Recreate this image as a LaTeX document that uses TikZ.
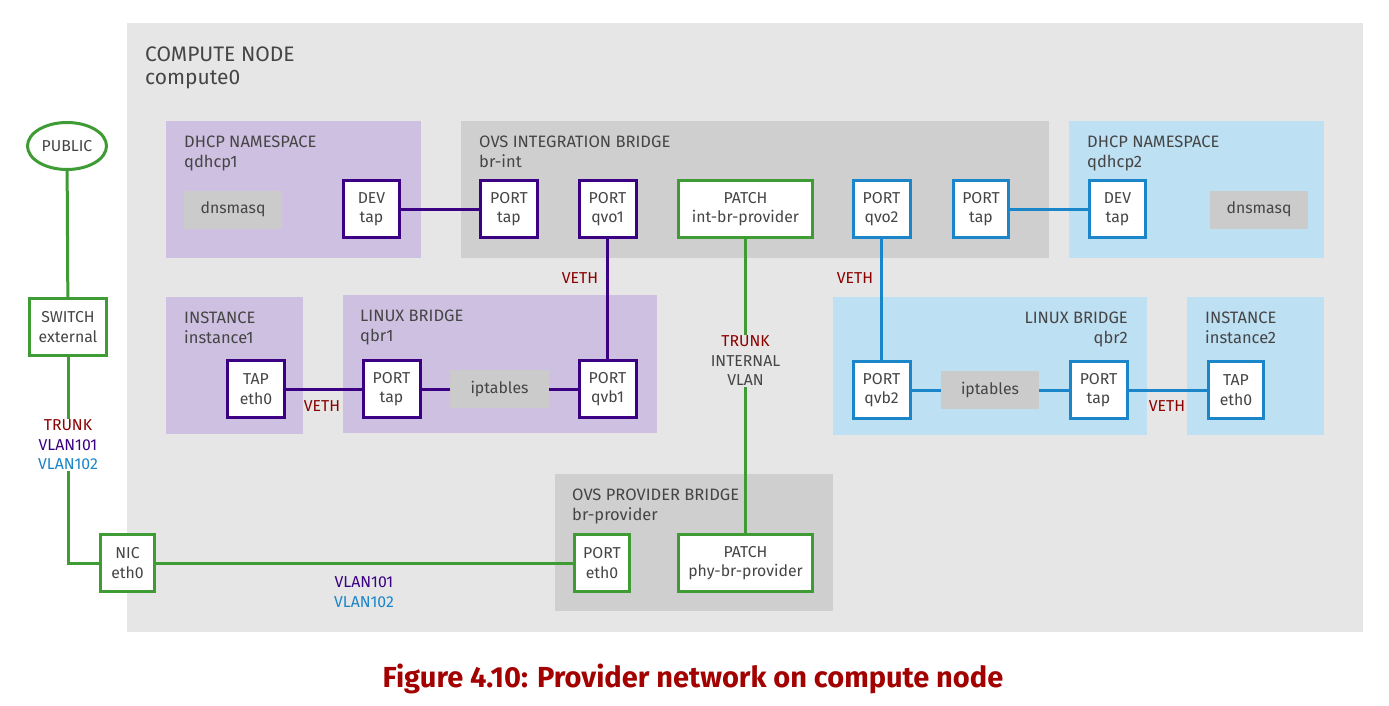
\documentclass[tikz,border=0pt]{standalone}
\usepackage{fontspec}
\setmainfont{Fira Sans}
\usetikzlibrary{shapes.geometric}
\definecolor{cpurple}{HTML}{3B0083}
\definecolor{cblue}{HTML}{1A85C8}
\definecolor{cgreen}{HTML}{3F9C35}
\definecolor{cred}{HTML}{8B0000}
\definecolor{ccap}{HTML}{A30000}
\definecolor{ctext}{HTML}{454545}
\definecolor{bgcomp}{HTML}{E6E6E6}
\definecolor{bgbridge}{HTML}{CFCFCF}
\definecolor{lav}{HTML}{CEC0E1}
\definecolor{lblue}{HTML}{BEE0F3}
\definecolor{gbox}{HTML}{CBCBCB}
\newcommand{\fs}{\fontsize{15.8}{19.5}\selectfont}
\newcommand{\ft}{\fontsize{16.5}{20.5}\selectfont}
\tikzset{
  area/.style={anchor=north west, inner sep=0pt, outer sep=0pt},
  title/.style={anchor=base west, inner sep=0pt, text=ctext, font=\ft, align=left},
  port/.style={draw, line width=3pt, fill=white, inner sep=0pt, align=center, text=ctext, font=\fs, minimum width=57pt, minimum height=57pt},
  pport/.style={port, draw=cpurple},
  bport/.style={port, draw=cblue},
  gport/.style={port, draw=cgreen},
  gray/.style={fill=gbox, inner sep=0pt, text=ctext, font=\fs, minimum width=98pt, minimum height=38pt},
  pline/.style={draw=cpurple, line width=3pt},
  bline/.style={draw=cblue, line width=3pt},
  gline/.style={draw=cgreen, line width=3pt},
  lbl/.style={inner sep=0pt, font=\fs, align=center},
}
\begin{document}
\begin{tikzpicture}[x=1pt, y=-1pt]
\useasboundingbox (0,0) rectangle (1389,706);
\fill[white] (0,0) rectangle (1389,706);
% compute node
\fill[bgcomp] (127,23) rectangle (1363,632);
\node[title, font=\fontsize{21}{23.5}\selectfont] (ctitle) at (145,85) {COMPUTE NODE\\compute0};
% areas
\node[area, fill=lav, minimum width=255pt, minimum height=137pt] (ns1) at (166,121) {};
\node[title] (ns1t) at (184,167.5) {DHCP NAMESPACE\\qdhcp1};
\node[area, fill=bgbridge, minimum width=588pt, minimum height=137pt] (brint) at (461,121) {};
\node[title] (brintt) at (479,167.5) {OVS INTEGRATION BRIDGE\\br-int};
\node[area, fill=lblue, minimum width=255pt, minimum height=137pt] (ns2) at (1069,121) {};
\node[title] (ns2t) at (1087,167.5) {DHCP NAMESPACE\\qdhcp2};
\node[area, fill=lav, minimum width=137pt, minimum height=137pt] (inst1) at (166,297) {};
\node[title] (inst1t) at (184,343.5) {INSTANCE\\instance1};
\node[area, fill=lav, minimum width=314pt, minimum height=138pt] (qbr1) at (343,295) {};
\node[title] (qbr1t) at (360,341.5) {LINUX BRIDGE\\qbr1};
\node[area, fill=lblue, minimum width=314pt, minimum height=138pt] (qbr2) at (833,297) {};
\node[title, anchor=base east, align=right] (qbr2t) at (1128,343.5) {LINUX BRIDGE\\qbr2};
\node[area, fill=lblue, minimum width=137pt, minimum height=138pt] (inst2) at (1187,297) {};
\node[title] (inst2t) at (1205,343.5) {INSTANCE\\instance2};
\node[area, fill=bgbridge, minimum width=278pt, minimum height=137pt] (brprov) at (555,474) {};
\node[title] (brprovt) at (572,520.5) {OVS PROVIDER BRIDGE\\br-provider};
% gray boxes
\node[gray] (dns1) at (233,209.5) {dnsmasq};
\node[gray] (dns2) at (1259,209.5) {dnsmasq};
\node[gray, minimum width=99pt] (ipt1) at (499.5,389) {iptables};
\node[gray] (ipt2) at (990,390) {iptables};
% ports
\node[pport, minimum width=56pt] (dev1) at (371.5,209) {DEV\\tap};
\node[pport] (ptap1) at (509,209) {PORT\\tap};
\node[pport] (qvo1) at (607.5,209) {PORT\\qvo1};
\node[gport, minimum width=134pt] (pint) at (745.5,209) {PATCH\\int-br-provider};
\node[bport] (qvo2) at (881.5,209) {PORT\\qvo2};
\node[bport, minimum width=55pt] (ptap2) at (981,209) {PORT\\tap};
\node[bport, minimum width=56pt] (dev2) at (1117.5,209) {DEV\\tap};
\node[pport] (tap1) at (256,389) {TAP\\eth0};
\node[pport] (qtap1) at (391.5,389) {PORT\\tap};
\node[pport] (qvb1) at (607.5,389) {PORT\\qvb1};
\node[bport] (qvb2) at (881.5,390) {PORT\\qvb2};
\node[bport] (qtap2) at (1098.5,390) {PORT\\tap};
\node[bport, minimum width=55pt] (tap2) at (1236,390) {TAP\\eth0};
\node[gport, minimum width=77pt] (sw) at (68,327) {SWITCH\\external};
\node[gport, minimum width=54pt] (nic) at (127.5,563) {NIC\\eth0};
\node[gport, minimum width=55pt] (peth) at (602,563) {PORT\\eth0};
\node[gport, minimum width=134pt] (pphy) at (745.5,563) {PATCH\\phy-br-provider};
\node[draw=cgreen, line width=3pt, ellipse, fill=white, inner sep=0pt, minimum width=79pt, minimum height=47pt, text=ctext, font=\fs] (pub) at (67,146) {PUBLIC};
% connectors
\draw[pline] (dev1) -- (ptap1);
\draw[pline] (qvo1) -- (qvb1);
\draw[pline] (tap1) -- (qtap1);
\draw[pline] (qtap1) -- (ipt1);
\draw[pline] (ipt1) -- (qvb1);
\draw[bline] (ptap2) -- (dev2);
\draw[bline] (qvo2) -- (qvb2);
\draw[bline] (qvb2) -- (ipt2);
\draw[bline] (ipt2) -- (qtap2);
\draw[bline] (qtap2) -- (tap2);
\draw[gline] (pint) -- (pphy);
\draw[gline] (pub) -- (sw);
\draw[gline] (sw.south) |- (nic.west);
\draw[gline] (nic) -- (peth);
% labels
\node[lbl, text=cred] (veth1) at (322,406) {VETH};
\node[lbl, text=cred] (veth2) at (580,278) {VETH};
\node[lbl, text=cred] (veth3) at (855,278) {VETH};
\node[lbl, text=cred] (veth4) at (1167,406) {VETH};
\node[lbl, fill=bgcomp, inner sep=1pt] (trunkint) at (745.5,361) {\textcolor{cred}{TRUNK}\\\textcolor{ctext}{INTERNAL}\\\textcolor{ctext}{VLAN}};
\node[lbl, fill=white, inner sep=1pt] (trunkext) at (68,445) {\textcolor{cred}{TRUNK}\\\textcolor{cpurple}{VLAN101}\\\textcolor{cblue}{VLAN102}};
\node[lbl] (vlans) at (364,592) {\textcolor{cpurple}{VLAN101}\\\textcolor{cblue}{VLAN102}};
% caption
\node[inner sep=0pt, text=ccap, font=\fontsize{29}{34}\bfseries\selectfont] (cap) at (693,679) {Figure 4.10: Provider network on compute node};
\end{tikzpicture}
\end{document}
